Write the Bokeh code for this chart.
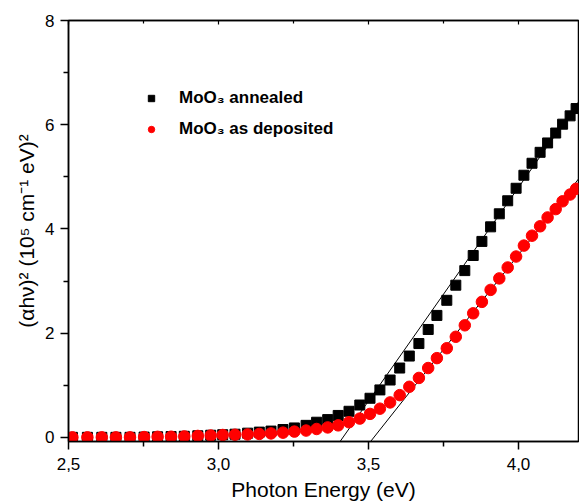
from bokeh.plotting import figure
from bokeh.models import (Range1d, LinearAxis, FixedTicker, CustomJSTickFormatter,
                          Legend, LegendItem)
from bokeh.embed import file_html
from bokeh.resources import INLINE

# ---- data ----
energy = [2.513, 2.563, 2.611, 2.658, 2.705, 2.752, 2.797, 2.842, 2.886, 2.931, 2.974,
          3.014, 3.055, 3.097, 3.136, 3.175, 3.215, 3.253, 3.292, 3.327, 3.364,
          3.399, 3.435, 3.471, 3.505, 3.538, 3.572, 3.604, 3.636, 3.668, 3.699,
          3.728, 3.761, 3.791, 3.821, 3.849, 3.878, 3.907, 3.936, 3.964, 3.992,
          4.018, 4.045, 4.072, 4.097, 4.124, 4.147, 4.172, 4.192]
annealed = [0.0, 0.0, 0.0, 0.0, 0.0, 0.005, 0.01, 0.015, 0.02, 0.03, 0.04,
            0.05, 0.06, 0.08, 0.10, 0.12, 0.15, 0.18, 0.23, 0.29, 0.34,
            0.42, 0.50, 0.62, 0.75, 0.91, 1.10, 1.33, 1.56, 1.80, 2.07,
            2.34, 2.63, 2.92, 3.20, 3.49, 3.76, 4.04, 4.29, 4.54, 4.78,
            5.03, 5.26, 5.47, 5.65, 5.84, 6.01, 6.17, 6.31]
deposited = [0.0, 0.0, 0.0, 0.0, 0.0, 0.005, 0.01, 0.012, 0.018, 0.027, 0.035,
             0.045, 0.05, 0.055, 0.065, 0.075, 0.09, 0.11, 0.13, 0.16, 0.19,
             0.23, 0.29, 0.36, 0.45, 0.55, 0.67, 0.81, 0.97, 1.14, 1.33,
             1.52, 1.71, 1.93, 2.15, 2.38, 2.60, 2.83, 3.05, 3.26, 3.47,
             3.68, 3.87, 4.05, 4.22, 4.38, 4.53, 4.66, 4.77]
fit_gap = [3.415, 3.518]      # x-intercepts of the linear fits (eV)
fit_slope = [8.2, 7.27]       # slopes of the linear fits
labels = ["MoO\u2083 annealed", "MoO\u2083 as deposited"]
x_major = [2.5, 3.0, 3.5, 4.0]
x_minor = [2.75, 3.25, 3.75, 4.25]
y_major = [0, 2, 4, 6, 8]
y_minor = [1, 3, 5, 7]

X0, X1 = 2.5, 4.2
Y0, Y1 = -0.08, 8.0
FONT = "Liberation Sans"

p = figure(width=579, height=503, output_backend="svg", toolbar_location=None,
           x_range=Range1d(X0, X1), y_range=Range1d(Y0, Y1),
           min_border_left=68, min_border_right=1, min_border_top=20, min_border_bottom=60)
p.grid.visible = False
p.outline_line_color = "black"
p.outline_line_width = 1.5

# main axes
for ax in (p.xaxis[0], p.yaxis[0]):
    ax.axis_line_width = 1.5
    ax.major_tick_line_width = 1.5
    ax.minor_tick_line_width = 1.5
    ax.major_tick_out = 8
    ax.major_tick_in = 0
    ax.minor_tick_out = 5
    ax.minor_tick_in = 0
    ax.major_label_text_font = FONT
    ax.major_label_text_font_size = "17px"
    ax.major_label_text_color = "black"
    ax.axis_label_text_font = FONT
    ax.axis_label_text_font_size = "21px"
    ax.axis_label_text_font_style = "normal"
    ax.axis_label_text_color = "black"

p.xaxis[0].ticker = FixedTicker(ticks=x_major, minor_ticks=x_minor)
p.xaxis[0].formatter = CustomJSTickFormatter(code="return tick.toFixed(1).replace('.', ',');")
p.xaxis[0].axis_label = "Photon Energy (eV)"
p.xaxis[0].major_label_standoff = 8
p.xaxis[0].axis_label_standoff = 5

p.yaxis[0].ticker = FixedTicker(ticks=y_major, minor_ticks=y_minor)
p.yaxis[0].axis_label = "(\u03b1h\u03bd)\u00b2 (10\u2075 cm\u207b\u00b9 eV)\u00b2"
p.yaxis[0].major_label_standoff = 6
p.yaxis[0].axis_label_standoff = 4

# top axis with inward ticks only
top = LinearAxis(ticker=FixedTicker(ticks=x_major, minor_ticks=x_minor),
                 formatter=CustomJSTickFormatter(code="return '';"),
                 major_label_text_font_size="1px", major_label_standoff=0,
                 major_tick_in=4, major_tick_out=0, minor_tick_in=3, minor_tick_out=0,
                 axis_line_width=1.5, major_tick_line_width=1.2, minor_tick_line_width=1.2)
p.add_layout(top, "above")

# linear fits
for eg, k in zip(fit_gap, fit_slope):
    xs = [eg + Y0 / k, X1 + 0.05]
    ys = [k * (x - eg) for x in xs]
    p.line(xs, ys, line_color="black", line_width=1)

r1 = p.scatter(energy, annealed, marker="square", size=10, fill_color="black",
               line_color="black")
r2 = p.scatter(energy, deposited, marker="circle", size=11.5, fill_color="#ff0000",
               line_color="#ff0000")

legend = Legend(items=[LegendItem(label=labels[0], renderers=[r1]),
                       LegendItem(label=labels[1], renderers=[r2])],
                location=(75, 302), border_line_color=None, background_fill_alpha=0,
                padding=0, margin=0, spacing=11, glyph_width=16, glyph_height=16,
                label_height=16, label_standoff=20,
                label_text_font=FONT, label_text_font_size="17px",
                label_text_font_style="bold", label_text_color="black")
p.add_layout(legend, "center")

open("out.html", "w").write(file_html(p, INLINE))
